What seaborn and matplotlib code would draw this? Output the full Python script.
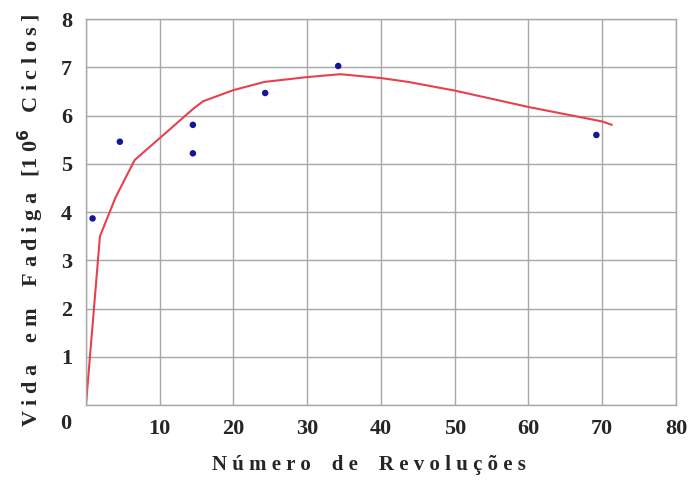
import matplotlib
matplotlib.use("Agg")
import matplotlib.pyplot as plt
import seaborn as sns
import pandas as pd

# Measured points
pts_x = [0.9, 4.6, 14.5, 14.5, 24.3, 34.2, 69.2]
pts_y = [3.87, 5.46, 5.81, 5.22, 6.47, 7.03, 5.60]

# Fitted curve
curve_x = [0.0, 1.9, 4.0, 6.6, 10.5, 14.6, 15.9, 20.0, 24.2, 30.0, 34.5, 40.0, 43.7, 50.0, 60.0, 70.0, 71.3]
curve_y = [0.0, 3.5, 4.3, 5.08, 5.6, 6.15, 6.3, 6.53, 6.7, 6.8, 6.86, 6.78, 6.7, 6.52, 6.18, 5.88, 5.81]

x_ticks = [10, 20, 30, 40, 50, 60, 70, 80]
y_ticks = [1, 2, 3, 4, 5, 6, 7, 8]

sns.set_theme(style="white")
plt.rcParams['font.family'] = ['Liberation Serif', 'DejaVu Serif']

fig = plt.figure(figsize=(6.93, 4.8), dpi=100)
fig.patch.set_facecolor('white')
ax = fig.add_axes([0.124, 0.156, 0.8515, 0.804])

ax.set_xlim(0, 80)
ax.set_ylim(0, 8)
ax.set_xticks(range(0, 81, 10))
ax.set_yticks(range(0, 9))
ax.grid(True, color='#a8a8a8', linewidth=1.0)
ax.set_axisbelow(True)
for s in ax.spines.values():
    s.set_color('#a8a8a8')
    s.set_linewidth(1.0)

sns.lineplot(x=curve_x, y=curve_y, ax=ax, color='#e8404c', linewidth=1.5, sort=False)
sns.scatterplot(x=pts_x, y=pts_y, ax=ax, color='#15159a', s=22, edgecolor='none', zorder=5)

ax.set_xticklabels([''] + [str(v) for v in x_ticks])
ax.set_yticklabels([''] + [str(v) for v in y_ticks])
ax.tick_params(axis='both', length=0, labelsize=16, pad=10)
for lab in ax.get_xticklabels() + ax.get_yticklabels():
    lab.set_fontweight('bold')
ax.text(-0.025, -0.048, '0', transform=ax.transAxes, ha='right', va='center',
        fontsize=16, fontweight='bold')

ax.set_xlabel('N ú m e r o    d e    R e v o l u ç õ e s', fontsize=15, fontweight='bold', va='center')
ax.xaxis.set_label_coords(0.48, -0.155)
ax.set_ylabel('V i d a    e m    F a d i g a   [1 0$^{\\mathbf{6}}$   C i c l o s ]', fontsize=16,
              fontweight='bold', va='center')
ax.yaxis.set_label_coords(-0.093, 0.479)

fig.savefig('out.png', dpi=100, facecolor='white')
